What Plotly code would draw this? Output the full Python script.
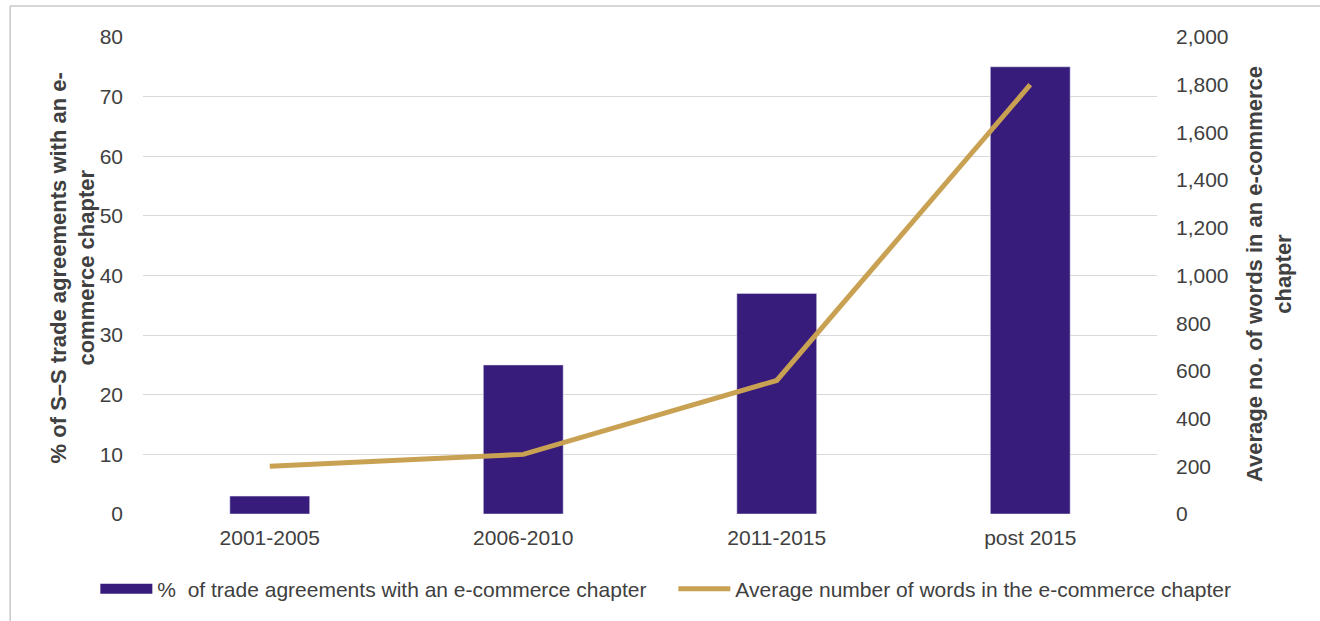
import plotly.graph_objects as go

categories = ["2001-2005", "2006-2010", "2011-2015", "post 2015"]
share_pct = [3, 25, 37, 75]
avg_words = [200, 250, 560, 1800]

bar_name = "%  of trade agreements with an e-commerce chapter"
line_name = "Average number of words in the e-commerce chapter"

BAR_COLOR = "#371c7b"
LINE_COLOR = "#c9a153"
TEXT = "#404040"
FONT = "Liberation Sans, Arial, sans-serif"

fig = go.Figure()
fig.add_trace(go.Bar(x=categories, y=share_pct, name=bar_name, marker_color=BAR_COLOR,
                     width=0.315, showlegend=False, yaxis="y"))
# legend proxy for the bar series (wide rectangle symbol)
fig.add_trace(go.Scatter(x=[None], y=[None], mode="lines", name=bar_name,
                         line=dict(color=BAR_COLOR, width=10), yaxis="y"))
fig.add_trace(go.Scatter(x=categories, y=avg_words, mode="lines", name=line_name,
                         line=dict(color=LINE_COLOR, width=5), yaxis="y2"))

fig.update_layout(
    width=1320, height=621,
    margin=dict(l=143, r=163, t=37, b=106),
    paper_bgcolor="white", plot_bgcolor="white",
    font=dict(family=FONT, color=TEXT, size=21),
    bargap=0.685,
    xaxis=dict(showgrid=False, zeroline=False, showline=False, ticks="",
               tickfont=dict(size=21, color=TEXT), ticklabelstandoff=9),
    yaxis=dict(range=[0, 80], dtick=10, showgrid=True, gridcolor="#d9d9d9", gridwidth=1.3,
               zeroline=False, showline=False, ticks="", tickfont=dict(size=21, color=TEXT),
               ticklabelstandoff=19),
    yaxis2=dict(range=[0, 2000], dtick=200, overlaying="y", side="right", showgrid=False,
                zeroline=False, showline=False, ticks="", tickformat=",",
                tickfont=dict(size=21, color=TEXT), ticklabelstandoff=18),
    legend=dict(orientation="h", x=-0.047, xanchor="left", y=-0.155, yanchor="middle",
                font=dict(size=21, color=TEXT), itemwidth=52, entrywidth=511,
                bgcolor="rgba(0,0,0,0)"),
    showlegend=True,
)

fig.add_annotation(text="<b>% of S–S trade agreements with an e-<br>commerce chapter</b>",
                   xref="paper", yref="paper", x=-0.069, y=0.515, textangle=-90,
                   showarrow=False, font=dict(size=22, color=TEXT), xanchor="center", yanchor="middle")
fig.add_annotation(text="<b>Average no. of words in an e-commerce<br>chapter</b>",
                   xref="paper", yref="paper", x=1.110, y=0.502, textangle=-90,
                   showarrow=False, font=dict(size=22, color=TEXT), xanchor="center", yanchor="middle")

# outer frame
fig.add_shape(type="line", xref="paper", yref="paper", x0=-0.131, x1=1.3, y0=1.065, y1=1.065,
              line=dict(color="#c8c8c8", width=1.5))
fig.add_shape(type="line", xref="paper", yref="paper", x0=-0.131, x1=-0.131, y0=1.065, y1=-0.4,
              line=dict(color="#c8c8c8", width=1.5))

fig.write_html("out.html")
